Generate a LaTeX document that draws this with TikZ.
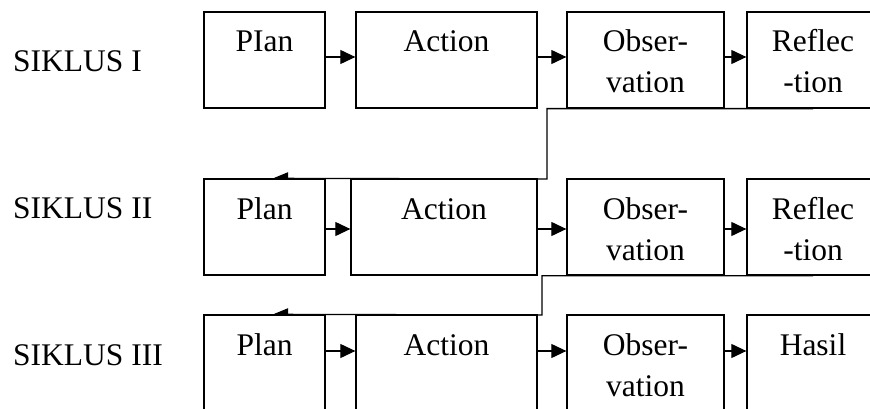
\documentclass[tikz,border=0pt]{standalone}
\usepackage{fontspec}
\setmainfont{Liberation Serif}
\usetikzlibrary{arrows.meta,backgrounds}

\begin{document}
\begin{tikzpicture}[
  x=1pt,y=-1pt,
  cyclebox/.style={rectangle,draw,line width=1.3pt,fill=white,inner sep=0pt,minimum height=96pt,minimum width=#1,align=center,text height=25pt,text depth=41pt,font=\fontsize{31.5}{41}\selectfont},
  twoline/.style={text height=66pt,text depth=0pt},
  flow/.style={-{Triangle[length=15pt,width=14pt]},line width=1.1pt},
  back/.style={-{Triangle[length=15pt,width=12pt]},line width=1.3pt},
  lbl/.style={anchor=base west,inner sep=0pt,font=\fontsize{31.5}{41}\selectfont},
]
\useasboundingbox (0,0) rectangle (870,409);

% === SIKLUS I ===
\node[lbl] (s1) at (13,72) {SIKLUS I};
\node[cyclebox=121pt] (P1) at (264.5,60) {PIan};
\node[cyclebox=181pt] (A1) at (446.5,60) {Action};
\node[cyclebox=157pt,twoline] (O1) at (645.5,60) {Obser-\\vation};
\node[cyclebox=132pt,twoline] (R1) at (813,60)   {Reflec\\-tion};

\coordinate (y1) at (0,57);
\draw[flow] (P1.east |- y1) -- (A1.west |- y1);
\draw[flow] (A1.east |- y1) -- (O1.west |- y1);
\draw[flow] (O1.east |- y1) -- (R1.west |- y1);

% === SIKLUS II ===
\node[lbl] (s2) at (13,218) {SIKLUS II};
\node[cyclebox=121pt] (P2) at (264.5,227) {Plan};
\node[cyclebox=186pt] (A2) at (444,227)   {Action};
\node[cyclebox=157pt,twoline] (O2) at (645.5,227) {Obser-\\vation};
\node[cyclebox=132pt,twoline] (R2) at (813,227)   {Reflec\\-tion};

\coordinate (y2) at (0,229);
\draw[flow] (P2.east |- y2) -- (A2.west |- y2);
\draw[flow] (A2.east |- y2) -- (O2.west |- y2);
\draw[flow] (O2.east |- y2) -- (R2.west |- y2);

% === SIKLUS III ===
\node[lbl] (s3) at (13,365) {SIKLUS III};
\node[cyclebox=121pt] (P3) at (264.5,363) {Plan};
\node[cyclebox=181pt] (A3) at (446.5,363) {Action};
\node[cyclebox=157pt,twoline] (O3) at (645.5,363) {Obser-\\vation};
\node[cyclebox=132pt] (H3) at (813,363)   {Hasil};

\coordinate (y3) at (0,351);
\draw[flow] (P3.east |- y3) -- (A3.west |- y3);
\draw[flow] (A3.east |- y3) -- (O3.west |- y3);
\draw[flow] (O3.east |- y3) -- (H3.west |- y3);

% === back to next cycle (behind the boxes) ===
\coordinate (k1) at (547,179);
\coordinate (k2) at (542,315);
\begin{scope}[on background layer]
\draw[back] (R1.south) -| (k1) -- ([xshift=8.5pt]P2.north);
\draw[back] (R2.south) -| (k2) -- ([xshift=8.5pt]P3.north);
\end{scope}

\end{tikzpicture}
\end{document}
